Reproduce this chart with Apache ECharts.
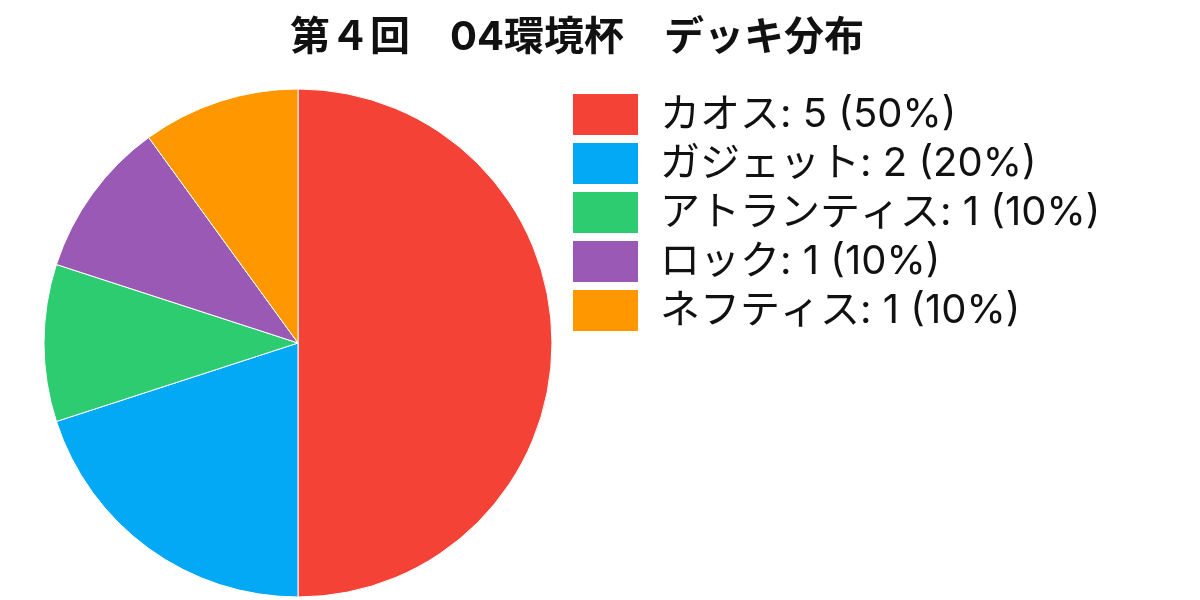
<!DOCTYPE html>
<html>
<head>
<meta charset="utf-8">
<script src="https://cdn.jsdelivr.net/npm/echarts@6/dist/echarts.min.js"></script>
<style>
  html, body { margin: 0; padding: 0; background: #fff; }
  #main { width: 1200px; height: 600px; }
</style>
</head>
<body>
<div id="main"></div>
<script>
// デッキ分布
const deckNames = ['カオス', 'ガジェット', 'アトランティス', 'ロック', 'ネフティス']
const deckCounts = [5, 2, 1, 1, 1]
const deckColors = ['#f44336', '#03a9f4', '#2ecc71', '#9b59b6', '#ff9800']

const total = deckCounts.reduce((a, b) => a + b, 0)
const font = 'Inter, "Noto Sans CJK JP", sans-serif'

const chart = echarts.init(document.getElementById('main'))

const option = {
    animation: false,
    color: deckColors,
    title: {
        text: '第４回　04環境杯　デッキ分布',
        left: 577,
        textAlign: 'center',
        top: 18,
        padding: 0,
        textStyle: { fontFamily: font, fontSize: 40, fontWeight: 'bold', color: '#111' }
    },
    legend: {
        orient: 'vertical',
        left: 571,
        top: 92,
        padding: 0,
        icon: 'rect',
        itemWidth: 67,
        itemHeight: 43,
        itemGap: 4,
        selectedMode: false,
        formatter: function (name) {
            const i = deckNames.indexOf(name)
            const v = deckCounts[i]
            return name + ': ' + v + ' (' + Math.round(v / total * 100) + '%)'
        },
        textStyle: { fontFamily: font, fontSize: 40, lineHeight: 43, color: '#111', padding: [0, 0, 0, 16] }
    },
    series: [{
        type: 'pie',
        center: [298, 343],
        radius: [0, 254],
        startAngle: 90,
        clockwise: true,
        label: { show: false },
        labelLine: { show: false },
        itemStyle: { borderColor: '#fff', borderWidth: 1 },
        emphasis: { disabled: true },
        data: deckNames.map((n, i) => ({ name: n, value: deckCounts[i] }))
    }]
}

chart.setOption(option)
</script>
</body>
</html>
